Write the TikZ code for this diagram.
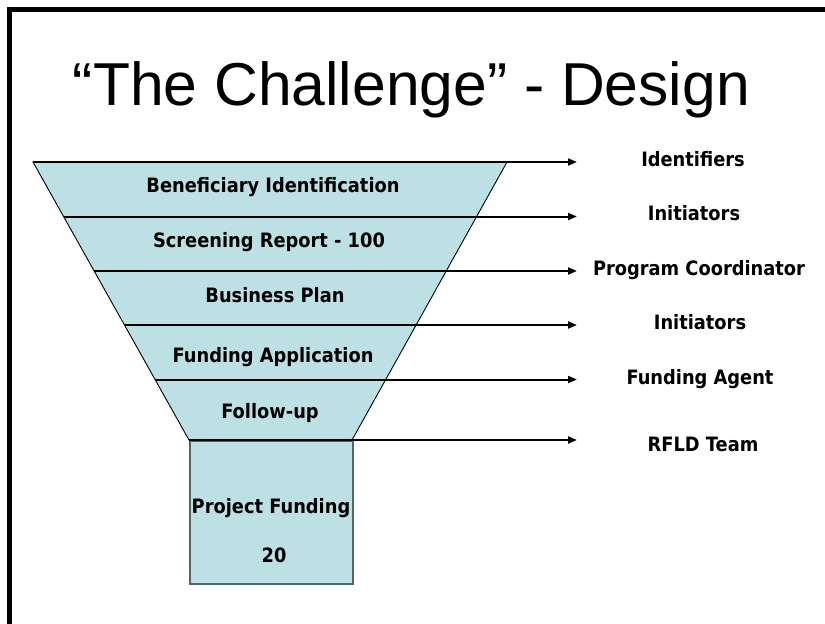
\documentclass[tikz,border=0pt]{standalone}
\usepackage{fontspec}
\setmainfont{DejaVu Sans}
\newfontfamily\titlefont{Liberation Sans}
\newfontfamily\labelfont{DejaVu Sans}[FakeStretch=0.9]
\usetikzlibrary{arrows.meta}
\definecolor{funnelfill}{RGB}{188,224,227}
\definecolor{boxedge}{RGB}{85,100,100}
\begin{document}
\begin{tikzpicture}[x=1pt,y=-1pt,
  funnel/.style={fill=funnelfill,draw=black,line width=0.9pt,line join=miter},
  sepline/.style={draw=black,line width=2pt,-{Triangle[length=9pt,width=7pt]}},
  stagelabel/.style={font=\labelfont\bfseries\fontsize{19.8}{22}\selectfont,anchor=base,inner sep=0pt},
  rolelabel/.style={font=\labelfont\bfseries\fontsize{19.8}{22}\selectfont,anchor=base,inner sep=0pt},
  frameline/.style={draw=black,line width=5pt}]
\useasboundingbox (0,0) rectangle (825,624);
\clip (0,0) rectangle (825,624);
\fill[white] (0,0) rectangle (825,624);
% frame (only left and top edges visible)
\draw[frameline] (9.5,640) -- (9.5,9.8) -- (840,9.8);
% title
\node[font=\titlefont\fontsize{60.6}{70}\selectfont,anchor=base,inner sep=0pt] (title) at (411.5,105) {“The Challenge” - Design};
% funnel
\coordinate (tl) at (33,162);
\coordinate (tr) at (507,162);
\coordinate (bl) at (189,440);
\coordinate (br) at (352,440);
\filldraw[funnel] (tl) -- (tr) -- (br) -- (bl) -- cycle;
% stem box
\node[draw=boxedge,line width=1.5pt,fill=funnelfill,minimum width=163pt,minimum height=143pt,anchor=north west,inner sep=0pt] (box) at (189,440) {};
% separator start points on left edge
\coordinate (s1) at (33,162);
\coordinate (s2) at (63.6,216.5);
\coordinate (s3) at (94.2,271);
\coordinate (s4) at (124.5,325);
\coordinate (s5) at (155.1,379.5);
\coordinate (s6) at (189,440);
% arrow ends
\coordinate (e1) at (577,162);
\coordinate (e2) at (577,216.5);
\coordinate (e3) at (577,271);
\coordinate (e4) at (577,325);
\coordinate (e5) at (577,379.5);
\coordinate (e6) at (577,440);
\draw[sepline] (s1) -- (e1);
\draw[sepline] (s2) -- (e2);
\draw[sepline] (s3) -- (e3);
\draw[sepline] (s4) -- (e4);
\draw[sepline] (s5) -- (e5);
\draw[sepline] (s6) -- (e6);
% stage labels
\node[stagelabel] (st1) at (273,192.3) {Beneficiary Identification};
\node[stagelabel] (st2) at (269,247.3) {Screening Report - 100};
\node[stagelabel] (st3) at (275,302.3) {Business Plan};
\node[stagelabel] (st4) at (273,362.3) {Funding Application};
\node[stagelabel] (st5) at (270,418.3) {Follow-up};
\node[stagelabel] (st6) at (271,513.3) {Project Funding};
\node[stagelabel] (st7) at (274,562.3) {20};
% role labels
\node[rolelabel] (r1) at (693,166.3) {Identifiers};
\node[rolelabel] (r2) at (694,220.3) {Initiators};
\node[rolelabel] (r3) at (699,275.3) {Program Coordinator};
\node[rolelabel] (r4) at (700,329.3) {Initiators};
\node[rolelabel] (r5) at (700,384.3) {Funding Agent};
\node[rolelabel] (r6) at (703,451.3) {RFLD Team};
\end{tikzpicture}
\end{document}
